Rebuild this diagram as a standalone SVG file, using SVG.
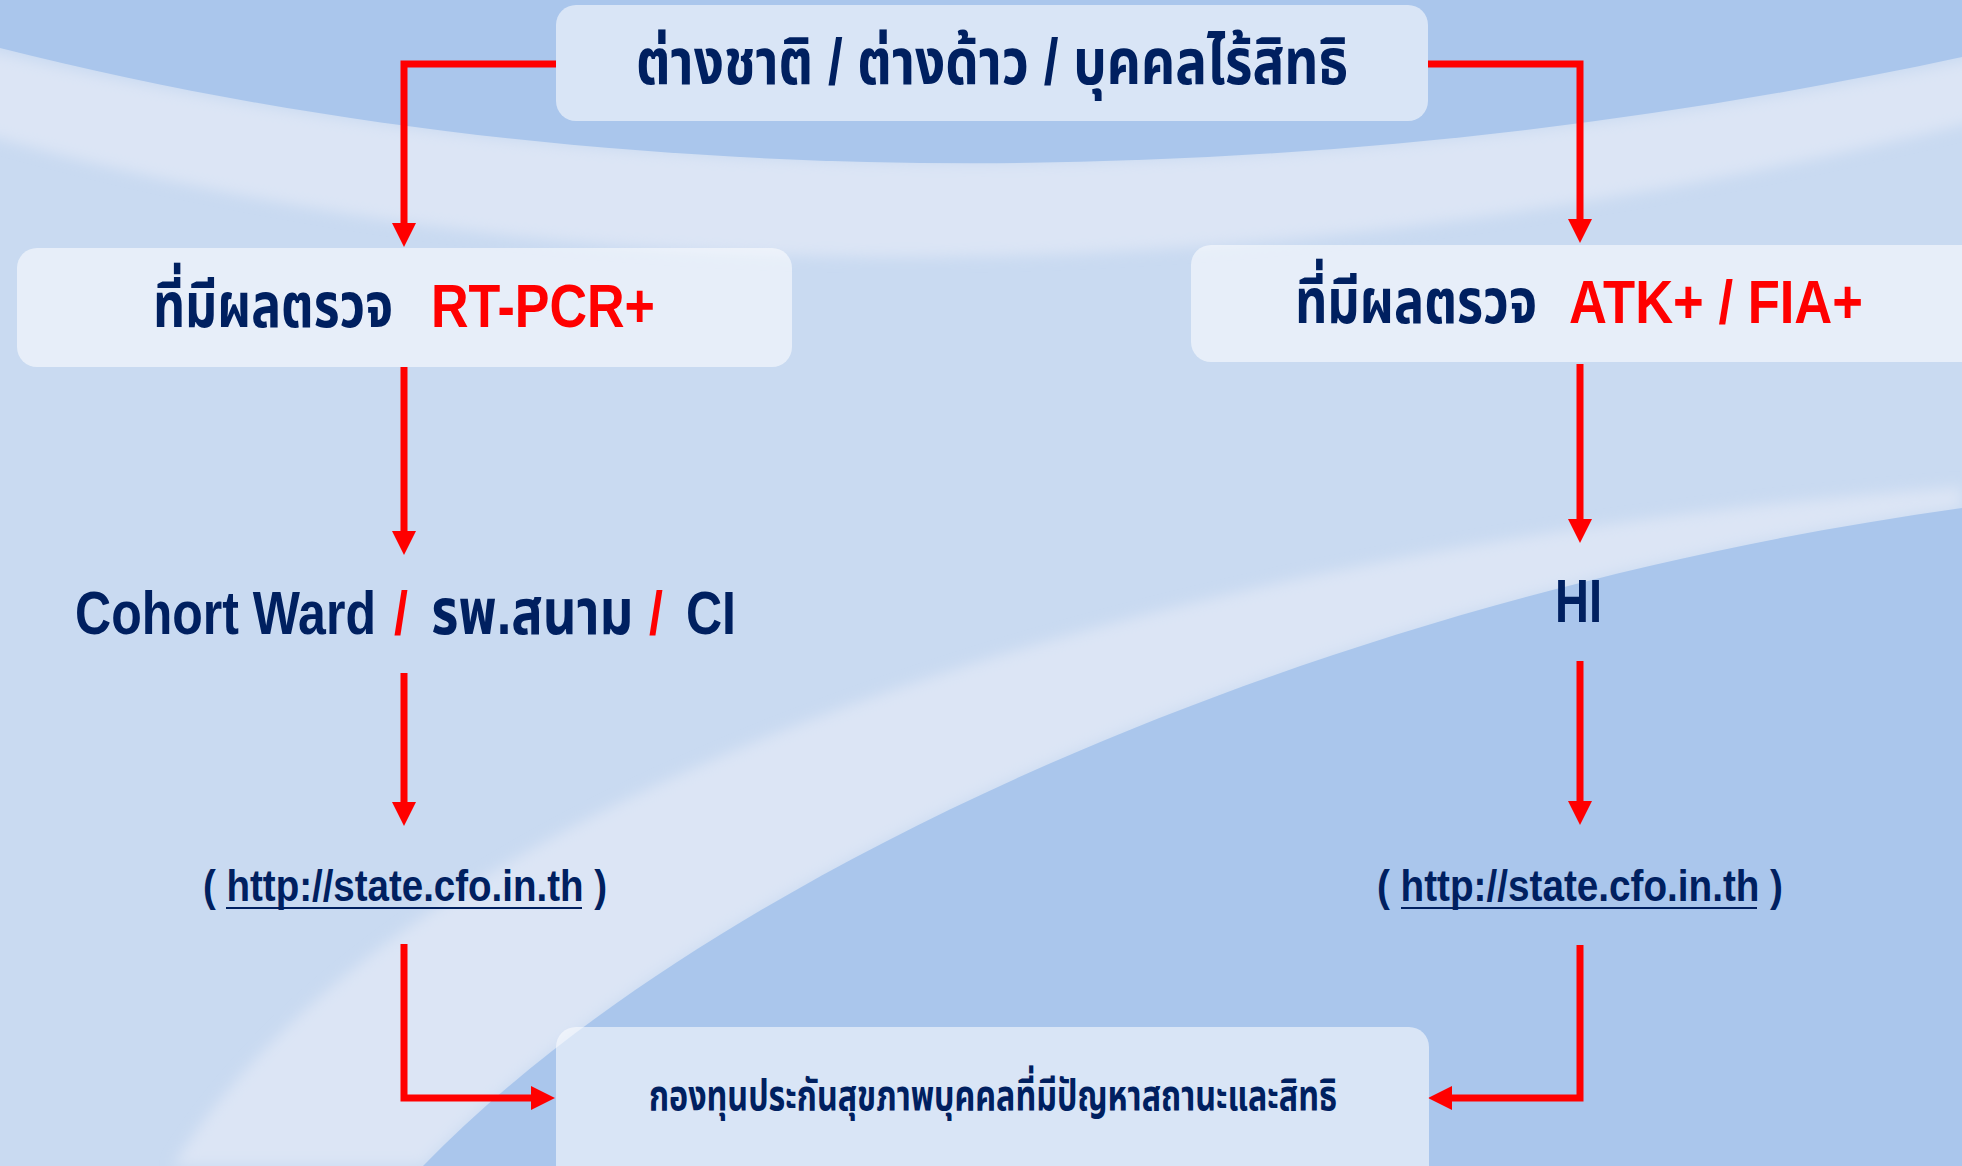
<svg xmlns="http://www.w3.org/2000/svg" width="1962" height="1166" viewBox="0 0 1962 1166">
  <defs>
    <style>
      .box { fill: #ffffff; fill-opacity: 0.55; }
      .t { font-family: "Liberation Sans", "Noto Sans Thai", "DejaVu Sans", sans-serif; font-weight: bold; }
      .navy { fill: #002060; }
      .red { fill: #ff0000; }
      .conn { fill: none; stroke: #ff0000; stroke-width: 7; stroke-linejoin: miter; }
    </style>
    <marker id="arrow" viewBox="0 0 24 24" refX="0" refY="12" markerWidth="24" markerHeight="24" markerUnits="userSpaceOnUse" orient="auto">
      <path d="M0,0 L24,12 L0,24 Z" fill="#ff0000"/>
    </marker>
    <filter id="soft" x="-10%" y="-10%" width="120%" height="120%">
      <feGaussianBlur stdDeviation="7"/>
    </filter>
  </defs>

  <!-- background -->
  <rect x="0" y="0" width="1962" height="1166" fill="#c9daf1"/>
  <path d="M-20,48 C600,200 1300,200 1982,57 L1982,120 C1300,290 600,310 -20,133 Z" fill="#dce5f5" filter="url(#soft)"/>
  <path d="M0,0 H1962 V57 C1300,200 600,200 0,48 Z" fill="#aac6ec"/>
  <path d="M173,1166 C400,800 1100,550 1962,487 L1962,508 C1300,600 700,880 423,1166 Z" fill="#dce5f5" filter="url(#soft)"/>
  <path d="M423,1166 C700,880 1300,600 1962,508 L1962,1166 Z" fill="#aac6ec"/>

  <g id="connectors">
    <path class="conn" d="M556,64 H404 V223" marker-end="url(#arrow)"/>
    <path class="conn" d="M1428,64 H1580 V219" marker-end="url(#arrow)"/>
    <path class="conn" d="M404,367 V531" marker-end="url(#arrow)"/>
    <path class="conn" d="M404,673 V802" marker-end="url(#arrow)"/>
    <path class="conn" d="M404,944 V1098 H531" marker-end="url(#arrow)"/>
    <path class="conn" d="M1580,364 V519" marker-end="url(#arrow)"/>
    <path class="conn" d="M1580,661 V801" marker-end="url(#arrow)"/>
    <path class="conn" d="M1580,945 V1098 H1452" marker-end="url(#arrow)"/>
  </g>

  <g id="node-top">
    <rect class="box" x="556" y="5" width="872" height="116" rx="20"/>
    <text class="t navy" x="636" y="84" font-size="64" textLength="712" lengthAdjust="spacingAndGlyphs">ต่างชาติ / ต่างด้าว / บุคคลไร้สิทธิ</text>
  </g>

  <g id="node-rtpcr">
    <rect class="box" x="17" y="248" width="775" height="119" rx="20"/>
    <text class="t" y="327" font-size="62"><tspan class="navy" x="153" textLength="240" lengthAdjust="spacingAndGlyphs">ที่มีผลตรวจ</tspan><tspan class="red" x="431" textLength="224" lengthAdjust="spacingAndGlyphs">RT-PCR+</tspan></text>
  </g>

  <g id="node-atk">
    <rect class="box" x="1191" y="245" width="790" height="117" rx="20"/>
    <text class="t" y="323" font-size="62"><tspan class="navy" x="1295" textLength="242" lengthAdjust="spacingAndGlyphs">ที่มีผลตรวจ</tspan><tspan class="red" x="1569" textLength="294" lengthAdjust="spacingAndGlyphs">ATK+ / FIA+</tspan></text>
  </g>

  <g id="node-cohort">
    <text class="t navy" transform="translate(0,634) scale(0.82,1)" y="0" font-size="61"><tspan x="91.5">Cohort Ward</tspan><tspan class="red" x="480.5">/</tspan><tspan x="526" font-size="64">รพ.สนาม</tspan><tspan class="red" x="791.5">/</tspan><tspan x="836.6">CI</tspan></text>
  </g>

  <g id="node-hi">
    <text class="t navy" x="1555" y="622" font-size="61" textLength="47" lengthAdjust="spacingAndGlyphs">HI</text>
  </g>

  <g id="node-url-left">
    <text class="t navy" x="203" y="901" font-size="44" textLength="404" lengthAdjust="spacingAndGlyphs">( http://state.cfo.in.th )</text>
    <line x1="226" y1="908" x2="582" y2="908" stroke="#002060" stroke-width="2"/>
  </g>

  <g id="node-url-right">
    <text class="t navy" x="1377" y="901" font-size="44" textLength="406" lengthAdjust="spacingAndGlyphs">( http://state.cfo.in.th )</text>
    <line x1="1401" y1="908" x2="1757" y2="908" stroke="#002060" stroke-width="2"/>
  </g>

  <g id="node-fund">
    <rect class="box" x="556" y="1027" width="873" height="170" rx="20"/>
    <text class="t navy" x="649" y="1110" font-size="43" textLength="688" lengthAdjust="spacingAndGlyphs">กองทุนประกันสุขภาพบุคคลที่มีปัญหาสถานะและสิทธิ</text>
  </g>
</svg>
